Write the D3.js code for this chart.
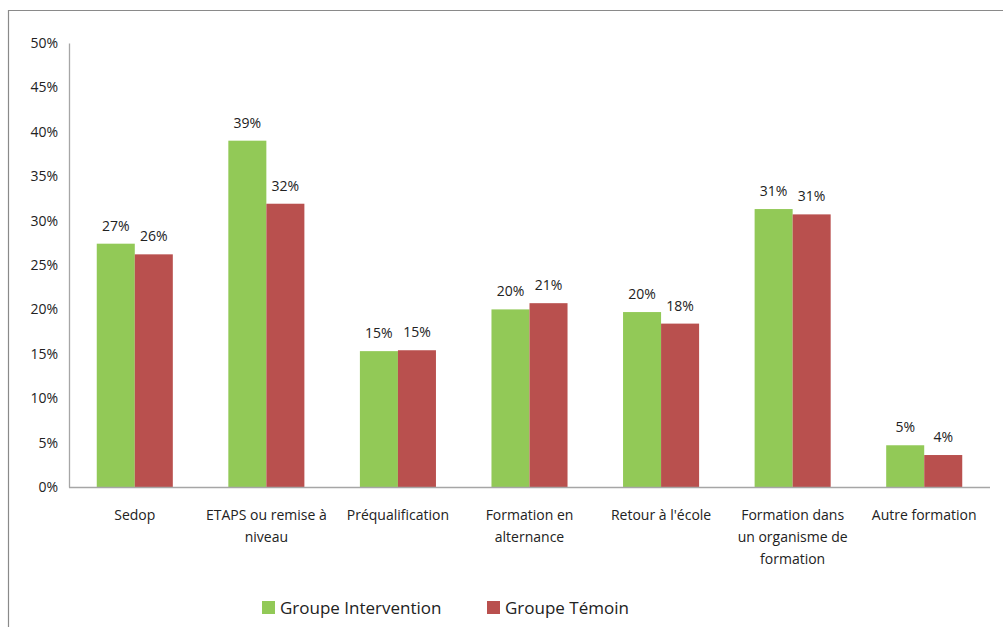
<!DOCTYPE html>
<html>
<head>
<meta charset="utf-8">
<style>
  body { margin: 0; background: #fff; }
  svg text { font-family: "Open Sans", "Noto Sans", sans-serif; fill: #222; }
  .tick text { font-size: 14px; }
</style>
</head>
<body>
<svg width="1003" height="627"></svg>
<script src="https://cdn.jsdelivr.net/npm/d3@7"></script>
<script>

// data
var categories = [
  "Sedop",
  "ETAPS ou remise à|niveau",
  "Préqualification",
  "Formation en|alternance",
  "Retour à l'école",
  "Formation dans|un organisme de|formation",
  "Autre formation"
];
var seriesNames = ["Groupe Intervention", "Groupe Témoin"];
var intervention = [27.4, 39.0, 15.3, 20.0, 19.7, 31.3, 4.7];
var temoin = [26.2, 31.9, 15.4, 20.7, 18.4, 30.7, 3.6];
var yTicks = [0, 5, 10, 15, 20, 25, 30, 35, 40, 45, 50];
var colors = ["#92C957", "#B9504E"];

var svg = d3.select("svg");

// outer frame (chart area runs past the picture on the right and bottom)
svg.append("path")
    .attr("d", "M8.5,640 V10.5 H1010")
    .attr("fill", "none")
    .attr("stroke", "#8a8a8a")
    .attr("stroke-width", 1.2);

var plotLeft = 69, plotRight = 990, plotTop = 43, plotBottom = 487;

var x = d3.scaleBand()
    .domain(categories)
    .range([plotLeft, plotRight])
    .paddingInner(0)
    .paddingOuter(0);

var xs = d3.scaleBand()
    .domain(seriesNames)
    .range([0, x.bandwidth()])
    .paddingInner(0)
    .paddingOuter(0.73);

var y = d3.scaleLinear()
    .domain([0, 50])
    .range([plotBottom, plotTop]);

// y axis
var yAxis = svg.append("g")
    .attr("transform", "translate(" + plotLeft + ",0)")
    .call(d3.axisLeft(y).tickValues(yTicks).tickSize(0).tickPadding(11)
      .tickFormat(function(d) { return d + "%"; }));
yAxis.select(".domain").attr("stroke", "#a6a6a6").attr("stroke-width", 1.3);
yAxis.selectAll(".tick text").attr("fill", "#222");

// bars
var rows = categories.map(function(c, i) {
  return { cat: c, vals: [intervention[i], temoin[i]] };
});

var groups = svg.append("g").selectAll("g")
    .data(rows)
    .enter().append("g")
      .attr("transform", function(d) { return "translate(" + x(d.cat) + ",0)"; });

var bars = groups.selectAll("g")
    .data(function(d) {
      return d.vals.map(function(v, j) { return { name: seriesNames[j], v: v, j: j }; });
    })
    .enter().append("g");

bars.append("rect")
    .attr("x", function(d) { return xs(d.name); })
    .attr("width", xs.bandwidth())
    .attr("y", function(d) { return y(d.v); })
    .attr("height", function(d) { return y(0) - y(d.v); })
    .attr("fill", function(d) { return colors[d.j]; });

bars.append("text")
    .attr("x", function(d) { return xs(d.name) + xs.bandwidth() / 2; })
    .attr("y", function(d) { return y(d.v) - 13; })
    .attr("text-anchor", "middle")
    .style("font-size", "14px")
    .text(function(d) { return Math.round(d.v) + "%"; });

// x axis baseline
svg.append("line")
    .attr("x1", plotLeft).attr("x2", plotRight)
    .attr("y1", plotBottom + 0.5).attr("y2", plotBottom + 0.5)
    .attr("stroke", "#a6a6a6")
    .attr("stroke-width", 1.3);

// category labels
var catLabels = svg.append("g").selectAll("text")
    .data(categories)
    .enter().append("text")
      .attr("x", function(d) { return x(d) + x.bandwidth() / 2; })
      .attr("y", 520)
      .attr("text-anchor", "middle")
      .style("font-size", "14px");

catLabels.selectAll("tspan")
    .data(function(d) { return d.split("|"); })
    .enter().append("tspan")
      .attr("x", function() { return this.parentNode.getAttribute("x"); })
      .attr("dy", function(d, i) { return i == 0 ? 0 : 22; })
      .text(function(d) { return d; });

// legend
var legendX = [262, 487];
var legend = svg.append("g").selectAll("g")
    .data(seriesNames)
    .enter().append("g")
      .attr("transform", function(d, i) { return "translate(" + legendX[i] + ",601)"; });

legend.append("rect")
    .attr("width", 13).attr("height", 13)
    .attr("fill", function(d, i) { return colors[i]; });

legend.append("text")
    .attr("x", 18)
    .attr("y", 13)
    .style("font-size", "17px")
    .text(function(d) { return d; });

</script>
</body>
</html>
